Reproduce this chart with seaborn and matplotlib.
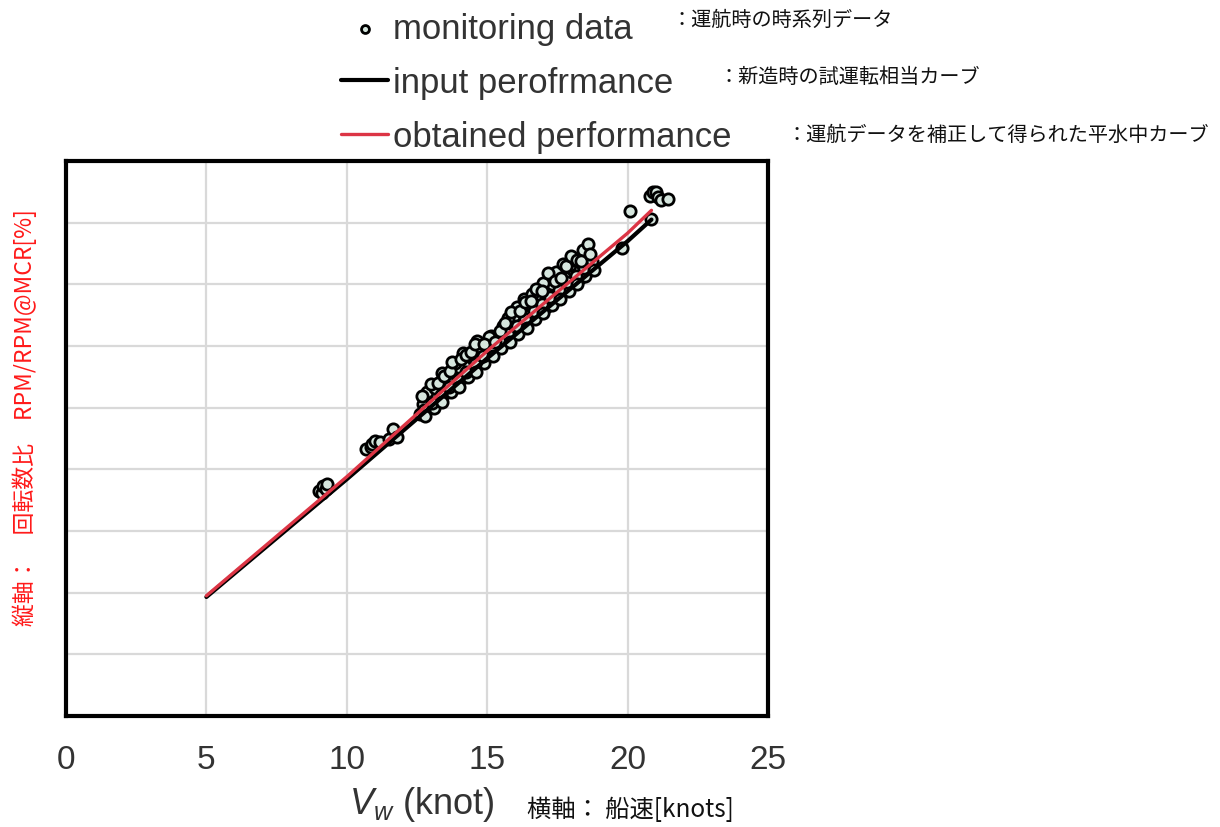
import matplotlib
matplotlib.use('Agg')
import matplotlib.pyplot as plt
import seaborn as sns

# monitoring data (speed [knot], RPM/RPM@MCR [%])
speed_monitor = [
    9.0, 9.1, 9.15, 9.25, 9.3,
    10.7, 10.85, 10.9, 11.0, 11.2, 11.5, 11.65, 11.8,
    12.6, 12.9, 13.2, 13.5, 13.8, 14.1, 14.4, 14.7, 15.0, 15.3, 15.6,
    15.9, 16.2, 16.5, 16.8, 17.1, 17.4, 17.7, 18.0, 18.3, 18.6,
    12.7, 13.0, 13.3, 13.6, 13.9, 14.2, 14.5, 14.8, 15.1, 15.4, 15.7,
    16.0, 16.3, 16.6, 16.9, 17.2, 17.5, 17.8, 18.1, 18.4,
    13.1, 13.7, 14.3, 14.9, 15.5, 16.1, 16.7, 17.3, 17.9, 18.5,
    12.85, 13.15, 13.55, 13.95, 14.35, 14.75, 15.15, 15.55, 15.95, 16.45,
    16.85, 17.3, 17.55, 17.95, 18.45,
    12.75, 13.05, 13.35, 13.65, 13.95, 14.25, 14.55, 14.85, 15.15, 15.45,
    15.75, 16.05, 16.35, 16.65, 16.95, 17.25, 17.55, 17.85, 18.15, 18.45, 18.75,
    13.4, 13.85, 14.15, 14.65, 15.05, 15.75, 16.05, 16.3, 16.6, 17.0,
    17.45, 17.7, 18.1, 18.4,
    12.8, 13.4, 14.0, 14.6, 15.2, 15.8, 16.4, 17.0, 17.6, 18.2, 18.8,
    12.69, 13.0, 13.25, 13.45, 13.67, 13.73, 14.08, 14.25, 14.44, 14.56,
    14.9, 15.27, 15.44, 15.65, 15.86, 16.16, 16.33, 16.57, 16.75, 16.95,
    17.16, 17.4, 17.64, 17.8, 18.0, 18.2, 18.35, 18.59, 18.65,
    19.8, 20.07, 20.85, 20.78, 20.9, 21.0, 21.1, 21.2, 21.43,
]
rpm_monitor = [
    46.5, 46.1, 47.3, 46.8, 47.6,
    53.3, 53.6, 54.1, 54.6, 54.4, 54.9, 56.5, 55.2,
    59.0, 60.0, 61.3, 62.4, 63.6, 64.8, 66.0, 67.2, 68.4, 69.6, 70.8,
    71.9, 73.0, 74.2, 75.3, 76.4, 77.6, 78.8, 79.9, 81.0, 82.2,
    60.6, 61.9, 63.1, 64.3, 65.5, 66.8, 68.0, 69.3, 70.5, 71.6, 72.9,
    74.0, 75.2, 76.3, 77.5, 78.6, 79.9, 81.0, 82.1, 83.2,
    60.0, 62.5, 64.9, 67.2, 69.6, 71.9, 74.3, 76.7, 79.0, 81.4,
    62.5, 63.2, 65.4, 66.6, 68.3, 69.8, 71.6, 73.2, 74.9, 76.8,
    78.3, 80.1, 81.6, 83.1, 84.8,
    59.6, 60.8, 62.0, 63.3, 64.5, 65.8, 67.1, 68.4, 69.7, 70.9,
    72.0, 73.2, 74.4, 75.6, 76.8, 77.9, 79.1, 80.3, 81.4, 82.6, 83.8,
    65.6, 67.3, 68.9, 70.8, 71.5, 74.6, 76.3, 77.6, 78.4, 80.2,
    82.0, 83.3, 84.0, 85.6,
    58.6, 60.9, 63.3, 65.8, 68.3, 70.6, 73.0, 75.3, 77.7, 80.0, 82.4,
    61.9, 63.8, 64.0, 65.2, 66.0, 67.4, 67.9, 68.6, 69.0, 70.3,
    70.4, 70.6, 72.5, 73.8, 75.5, 75.7, 77.1, 77.3, 79.2, 79.0,
    81.9, 80.6, 81.1, 83.0, 84.6, 83.9, 83.8, 86.5, 84.9,
    85.9, 91.9, 90.6, 94.4, 95.0, 94.9, 94.2, 93.6, 93.8,
]

# performance curves
speed_curve = [5.0, 10.0, 15.0, 20.0, 20.85]
rpm_input = [29.3, 48.4, 68.0, 87.0, 90.5]
rpm_obtained = [29.5, 48.8, 69.2, 88.3, 92.0]

x_ticks = [0, 5, 10, 15, 20, 25]
y_ticks = [10, 20, 30, 40, 50, 60, 70, 80, 90, 100]

sns.set_style('white')
plt.rcParams['font.family'] = ['Liberation Sans', 'Noto Sans CJK JP', 'DejaVu Sans']
plt.rcParams['mathtext.fontset'] = 'custom'
plt.rcParams['mathtext.rm'] = 'Liberation Sans'
plt.rcParams['mathtext.it'] = 'Liberation Sans:italic'

fig = plt.figure(figsize=(12.2, 8.28), dpi=100)
ax = fig.add_axes([66 / 1220, 111 / 828, 702 / 1220, 555 / 828])

sns.scatterplot(x=speed_monitor, y=rpm_monitor, ax=ax, s=66, marker='o',
                facecolor='#d6e6de', edgecolor='black', linewidth=2.0,
                label='monitoring data', zorder=3)
sns.lineplot(x=speed_curve, y=rpm_input, ax=ax, color='black', linewidth=3.0,
             sort=False, label='input perofrmance', zorder=4)
sns.lineplot(x=speed_curve, y=rpm_obtained, ax=ax, color='#dc3545', linewidth=2.4,
             sort=False, label='obtained performance', zorder=5)

ax.set_xlim(0, 25)
ax.set_ylim(10, 100)
ax.set_xticks(x_ticks)
ax.set_yticks(y_ticks)
ax.grid(True, color='#d9d9d9', linewidth=1.6)
ax.set_axisbelow(True)
for sp in ax.spines.values():
    sp.set_color('black')
    sp.set_linewidth(3)
ax.tick_params(axis='both', direction='in', length=5, width=1.3, color='black',
               top=False, right=False)
ax.tick_params(axis='x', labelsize=24, labelcolor='#333333', pad=20)
ax.tick_params(axis='y', labelleft=False)
ax.set_xlabel('')
ax.set_ylabel('')

ax.legend(loc='upper left', bbox_to_anchor=(341 / 1220, 1 - 13 / 828),
          bbox_transform=fig.transFigure, frameon=False, fontsize=25,
          labelcolor='#333333', handlelength=1.36, handletextpad=0.15,
          labelspacing=0.6, borderpad=0, borderaxespad=0, markerscale=0.7)

jp = ['Noto Sans CJK JP', 'DejaVu Sans']
fig.text(671 / 1220, 1 - 20 / 828, '：運航時の時系列データ', family=jp,
         fontsize=14.5, va='center', ha='left', color='#111111')
fig.text(718 / 1220, 1 - 77 / 828, '：新造時の試運転相当カーブ', family=jp,
         fontsize=14.5, va='center', ha='left', color='#111111')
fig.text(786 / 1220, 1 - 135 / 828, '：運航データを補正して得られた平水中カーブ', family=jp,
         fontsize=14.5, va='center', ha='left', color='#111111')

fig.text(422 / 1220, 1 - 805 / 828, '$V_w$ (knot)', fontsize=26,
         va='center', ha='center', color='#333333')
fig.text(527 / 1220, 1 - 810 / 828, '横軸： 船速[knots]', family=jp,
         fontsize=17.5, va='center', ha='left', color='#111111')
fig.text(25 / 1220, 1 - 418 / 828, '縦軸：\u3000回転数比\u3000RPM/RPM@MCR[%]',
         family=jp, fontsize=16.5, rotation=90, va='center', ha='center',
         color='#ff1a1a')

fig.savefig('out.png', dpi=100)
